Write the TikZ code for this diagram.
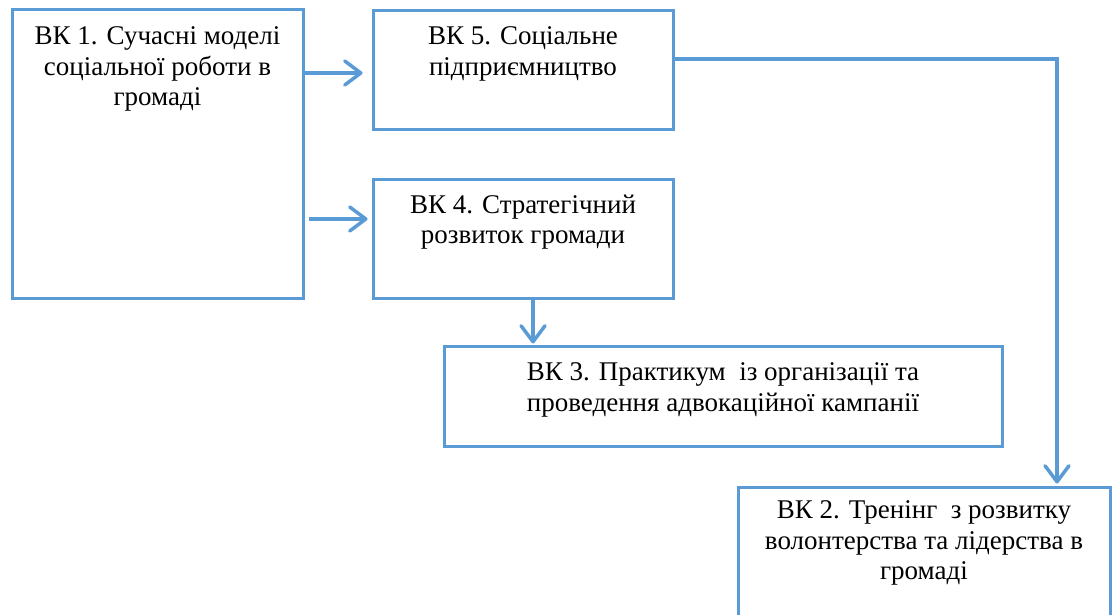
\documentclass[tikz,border=0pt]{standalone}
\usepackage{fontspec}
\setmainfont{Liberation Serif}
\usetikzlibrary{arrows.meta}
\definecolor{accent}{HTML}{5B9BD5}
\tikzset{
  box/.style={draw=accent, line width=3pt, fill=white, inner sep=0pt},
  txt/.style={anchor=north, inner sep=0pt, align=center, font=\fontsize{27}{30.5}\selectfont},
  arr/.style={draw=accent, line width=3.5pt, -{Straight Barb[length=16pt,width=24pt,line width=3.5pt,round]}},
  conn/.style={draw=accent, line width=3.5pt}
}
\begin{document}
\begin{tikzpicture}[x=1pt,y=-1pt]
\clip (0,0) rectangle (1120,615);
\fill[white] (0,0) rectangle (1120,615);
% boxes
\node[box, minimum width=291pt, minimum height=288pt] (b1) at (157.5,154) {};
\node[box, minimum width=300pt, minimum height=119pt] (b5) at (523,70.5) {};
\node[box, minimum width=300pt, minimum height=118pt] (b4) at (523,239) {};
\node[box, minimum width=558pt, minimum height=100pt] (b3) at (723,396) {};
\node[box, minimum width=372pt, minimum height=170pt] (b2) at (924,572) {};
% texts
\node[txt] (t1) at (157.5,26.5) {ВК 1. Сучасні моделі\\соціальної роботи в\\громаді};
\node[txt] (t5) at (523,26.5) {ВК 5. Соціальне\\підприємництво};
\node[txt] (t4) at (523,194.5) {ВК 4. Стратегічний\\розвиток громади};
\node[txt] (t3) at (723,362.5) {ВК 3. Практикум~ із організації та\\проведення адвокаційної кампанії};
\node[txt] (t2) at (924,500.5) {ВК 2. Тренінг~ з розвитку\\волонтерства та лідерства в\\громаді};
% connectors
\draw[arr, shorten >=9pt] (b1.east |- 0,73) -- ([yshift=-2.5pt]b5.west);
\draw[arr, shorten <=4pt, shorten >=4pt] (b1.east |- 0,219) -- ([yshift=20pt]b4.west);
\draw[arr, shorten >=1pt] ([xshift=10pt]b4.south) -- ([xshift=10pt]b4.south |- b3.north);
\draw[arr, shorten >=2pt] ([yshift=11.5pt]b5.east) -| ([xshift=133pt]b2.north);
\end{tikzpicture}
\end{document}
